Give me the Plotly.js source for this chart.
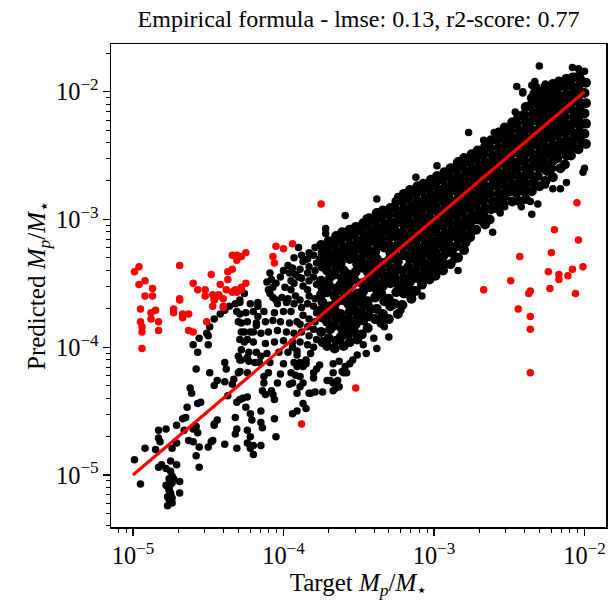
<!DOCTYPE html>
<html><head><meta charset="utf-8">
<script src="https://cdn.plot.ly/plotly-3.0.1.min.js"></script>
<style>html,body{margin:0;padding:0;background:#fff;}#chart{width:608px;height:601px;}</style>
</head><body><div id="chart"></div>
<script>
// All values are log10(M_p / M_star) pairs: [target, predicted]
const blackSparse = [[-4.99,-4.88],[-4.95,-5.07],[-4.92,-4.79],[-4.85,-4.80],[-4.83,-4.65],[-4.83,-4.71],[-4.82,-4.74],[-4.78,-4.64],[-4.81,-4.92],[-4.83,-4.94],[-4.78,-4.95],[-4.75,-4.89],[-4.75,-4.97],[-4.74,-5.01],[-4.75,-5.07],[-4.77,-5.09],[-4.76,-5.12],[-4.75,-5.14],[-4.77,-5.17],[-4.75,-5.21],[-4.77,-5.24],[-4.74,-5.22],[-4.78,-5.08],[-4.69,-5.05],[-4.69,-5.14],[-4.71,-4.92],[-4.73,-5.03],[-4.74,-4.79],[-4.71,-4.75],[-4.71,-4.61],[-4.67,-4.56],[-4.65,-4.55],[-4.64,-4.47],[-4.62,-4.32],[-4.61,-4.36],[-4.66,-4.65],[-4.63,-4.73],[-4.60,-4.74],[-4.60,-4.64],[-4.58,-4.62],[-4.57,-4.67],[-4.56,-4.78],[-4.58,-4.85],[-4.56,-4.94],[-4.57,-4.44],[-4.55,-4.43],[-4.58,-4.17],[-4.57,-4.04],[-4.60,-3.98],[-4.50,-3.98],[-4.50,-3.91],[-4.49,-4.20],[-4.44,-4.26],[-4.46,-4.30],[-4.39,-4.12],[-4.38,-4.17],[-4.39,-4.27],[-4.34,-4.29],[-4.37,-4.38],[-4.44,-4.57],[-4.46,-4.60],[-4.48,-4.74],[-4.50,-4.78],[-4.47,-4.73],[-4.39,-4.76],[-4.32,-4.68],[-4.31,-4.64],[-4.31,-4.79],[-4.32,-4.55],[-4.31,-4.43],[-4.29,-4.41],[-4.25,-4.47],[-4.24,-4.39],[-4.22,-4.52],[-4.21,-4.57],[-4.24,-4.65],[-4.24,-4.75],[-4.22,-4.79],[-4.20,-4.84],[-4.20,-4.77],[-4.22,-4.70],[-4.15,-4.59],[-4.15,-4.50],[-4.14,-4.63],[-4.14,-4.34],[-4.12,-4.37],[-4.15,-4.77],[-4.06,-4.56],[-4.05,-4.70],[-4.07,-4.37],[-4.06,-4.41],[-4.08,-4.34],[-4.13,-4.28],[-4.30,-4.20],[-4.29,-4.19],[-4.27,-4.40],[-4.13,-4.23],[-4.24,-4.20],[-4.33,-4.25],[-4.30,-4.07],[-4.28,-4.10],[-4.23,-4.11],[-4.76,-5.03],[-4.74,-5.06],[-4.76,-5.10],[-4.75,-5.15],[-4.76,-5.19],[-4.74,-5.18],[-4.46,-4.61]];

const blackMidLeft = [[-4.56,-3.93],[-4.51,-3.89],[-4.49,-3.84],[-4.46,-3.78],[-4.42,-3.74],[-4.39,-3.71],[-4.36,-3.68],[-4.32,-3.66],[-4.29,-3.63],[-4.26,-3.58],[-4.29,-3.74],[-4.28,-3.81],[-4.26,-3.88],[-4.29,-3.94],[-4.28,-4.02],[-4.24,-3.94],[-4.23,-4.04],[-4.20,-3.88],[-4.18,-3.83],[-4.17,-3.76],[-4.17,-3.68],[-4.24,-4.08],[-4.29,-4.10],[-4.19,-4.12],[-4.15,-4.07],[-4.09,-3.42],[-4.08,-3.47],[-4.07,-3.53],[-4.09,-3.58],[-4.05,-3.50],[-4.02,-3.45],[-4.00,-3.40],[-3.97,-3.36],[-3.94,-3.38],[-3.92,-3.43],[-3.95,-3.48],[-3.99,-3.53],[-4.01,-3.61],[-4.05,-3.63],[-4.07,-3.61],[-4.11,-3.49],[-4.10,-3.55],[-4.29,-3.65],[-4.22,-3.66],[-4.17,-3.65],[-4.04,-3.66],[-3.98,-3.65],[-3.93,-3.66],[-4.31,-3.72],[-4.25,-3.73],[-4.20,-3.72],[-4.13,-3.72],[-4.06,-3.73],[-4.00,-3.72],[-3.95,-3.72],[-4.30,-3.80],[-4.24,-3.80],[-4.18,-3.81],[-4.12,-3.80],[-4.07,-3.79],[-4.02,-3.80],[-3.96,-3.81],[-3.91,-3.80],[-4.28,-3.88],[-4.22,-3.88],[-4.15,-3.89],[-4.10,-3.88],[-4.04,-3.87],[-3.98,-3.88],[-3.93,-3.89],[-4.26,-3.96],[-4.20,-3.96],[-4.12,-3.97],[-4.06,-3.96],[-4.00,-3.95],[-3.94,-3.96],[-3.89,-3.96],[-4.18,-4.04],[-4.11,-4.05],[-4.03,-4.04],[-3.97,-4.04],[-3.91,-4.03],[-4.16,-4.12],[-4.09,-4.12],[-4.00,-4.13],[-3.93,-4.12],[-4.10,-4.20],[-4.02,-4.21],[-3.95,-4.20],[-4.04,-4.28],[-3.96,-4.29],[-3.90,-3.22],[-3.93,-3.30],[-3.95,-3.55],[-3.92,-3.60],[-3.97,-3.62],[-3.93,-3.50],[-3.90,-3.45],[-3.96,-3.42],[-3.94,-4.00],[-3.91,-4.06],[-3.89,-4.12],[-3.85,-4.10],[-3.82,-4.05],[-3.84,-3.98],[-3.80,-4.00]];

const bandEdgeLeft = [
[-3.88,-3.28],[-3.87,-3.33],[-3.89,-3.39],[-3.88,-3.46],[-3.87,-3.52],[-3.89,-3.63],[-3.88,-3.69],[-3.87,-3.75],[-3.89,-3.82],[-3.88,-3.88],
[-3.83,-3.26],[-3.84,-3.31],[-3.83,-3.37],[-3.84,-3.42],[-3.83,-3.48],[-3.84,-3.55],[-3.83,-3.60],[-3.84,-3.66],[-3.83,-3.78],[-3.84,-3.84],[-3.83,-3.91],
[-3.79,-3.22],[-3.80,-3.28],[-3.78,-3.34],[-3.79,-3.40],[-3.80,-3.45],[-3.78,-3.51],[-3.79,-3.62],[-3.80,-3.68],[-3.78,-3.73],[-3.79,-3.80],[-3.80,-3.86],[-3.78,-3.94]];

const bandCore = [
[-3.75,-3.20],[-3.74,-3.26],[-3.75,-3.31],[-3.74,-3.37],[-3.75,-3.48],[-3.74,-3.54],[-3.75,-3.59],[-3.74,-3.65],[-3.75,-3.71],[-3.74,-3.77],[-3.75,-3.88],[-3.74,-3.96],
[-3.70,-3.17],[-3.71,-3.23],[-3.69,-3.29],[-3.70,-3.34],[-3.71,-3.40],[-3.69,-3.45],[-3.70,-3.51],[-3.71,-3.57],[-3.69,-3.68],[-3.70,-3.74],[-3.71,-3.80],[-3.69,-3.86],[-3.70,-3.93],[-3.71,-3.99],
[-3.65,-3.13],[-3.66,-3.19],[-3.65,-3.25],[-3.66,-3.31],[-3.65,-3.37],[-3.66,-3.43],[-3.65,-3.54],[-3.66,-3.60],[-3.65,-3.65],[-3.66,-3.71],[-3.65,-3.77],[-3.66,-3.83],[-3.65,-3.95],[-3.66,-4.01],
[-3.61,-3.10],[-3.62,-3.16],[-3.60,-3.22],[-3.61,-3.28],[-3.62,-3.34],[-3.60,-3.40],[-3.61,-3.46],[-3.62,-3.51],[-3.60,-3.57],[-3.61,-3.63],[-3.62,-3.74],[-3.60,-3.80],[-3.61,-3.86],[-3.62,-3.92],[-3.60,-3.99],
[-3.56,-3.08],[-3.57,-3.14],[-3.56,-3.20],[-3.57,-3.25],[-3.56,-3.31],[-3.57,-3.43],[-3.56,-3.49],[-3.57,-3.54],[-3.56,-3.60],[-3.57,-3.66],[-3.56,-3.72],[-3.57,-3.78],[-3.56,-3.84],[-3.57,-3.90],[-3.56,-3.96],
[-3.52,-3.06],[-3.53,-3.11],[-3.51,-3.17],[-3.52,-3.23],[-3.53,-3.29],[-3.51,-3.35],[-3.52,-3.41],[-3.53,-3.47],[-3.51,-3.58],[-3.52,-3.64],[-3.53,-3.70],[-3.51,-3.76],[-3.52,-3.82],[-3.53,-3.88],[-3.51,-3.94],
[-3.47,-3.03],[-3.48,-3.09],[-3.47,-3.15],[-3.48,-3.20],[-3.47,-3.26],[-3.48,-3.32],[-3.47,-3.38],[-3.48,-3.50],[-3.47,-3.56],[-3.48,-3.61],[-3.47,-3.67],[-3.48,-3.73],[-3.47,-3.79],[-3.48,-3.90],
[-3.43,-2.99],[-3.44,-3.05],[-3.42,-3.11],[-3.43,-3.17],[-3.44,-3.23],[-3.42,-3.29],[-3.43,-3.35],[-3.44,-3.41],[-3.42,-3.47],[-3.43,-3.53],[-3.44,-3.64],[-3.42,-3.70],[-3.43,-3.76],[-3.44,-3.85],
[-3.38,-2.95],[-3.39,-3.01],[-3.38,-3.07],[-3.39,-3.13],[-3.38,-3.19],[-3.39,-3.25],[-3.38,-3.31],[-3.39,-3.37],[-3.38,-3.43],[-3.39,-3.49],[-3.38,-3.55],[-3.39,-3.61],[-3.38,-3.70],[-3.39,-3.78],
[-3.34,-2.93],[-3.35,-2.98],[-3.33,-3.04],[-3.34,-3.10],[-3.35,-3.16],[-3.33,-3.22],[-3.34,-3.34],[-3.35,-3.40],[-3.33,-3.46],[-3.34,-3.52],[-3.35,-3.58],[-3.33,-3.64],[-3.34,-3.74],[-3.35,-3.81],
[-3.29,-2.91],[-3.30,-2.96],[-3.29,-3.02],[-3.30,-3.08],[-3.29,-3.14],[-3.30,-3.20],[-3.29,-3.26],[-3.30,-3.32],[-3.29,-3.38],[-3.30,-3.44],[-3.29,-3.50],[-3.30,-3.62],[-3.29,-3.68],[-3.30,-3.78],
[-3.25,-2.86],[-3.26,-2.91],[-3.24,-2.97],[-3.25,-3.03],[-3.26,-3.09],[-3.24,-3.15],[-3.25,-3.21],[-3.26,-3.27],[-3.24,-3.33],[-3.25,-3.39],[-3.26,-3.45],[-3.24,-3.51],[-3.25,-3.57],[-3.26,-3.66],[-3.24,-3.74],
[-3.20,-2.80],[-3.21,-2.86],[-3.20,-2.92],[-3.21,-2.98],[-3.20,-3.04],[-3.21,-3.10],[-3.20,-3.16],[-3.21,-3.22],[-3.20,-3.28],[-3.21,-3.40],[-3.20,-3.46],[-3.21,-3.52],[-3.20,-3.58],[-3.21,-3.67],
[-3.16,-2.77],[-3.17,-2.83],[-3.15,-2.89],[-3.16,-2.95],[-3.17,-3.01],[-3.15,-3.07],[-3.16,-3.13],[-3.17,-3.19],[-3.15,-3.25],[-3.16,-3.31],[-3.17,-3.37],[-3.15,-3.43],[-3.16,-3.49],[-3.17,-3.55],[-3.15,-3.62],
[-3.11,-2.74],[-3.12,-2.80],[-3.11,-2.86],[-3.12,-2.92],[-3.11,-2.98],[-3.12,-3.04],[-3.11,-3.10],[-3.12,-3.16],[-3.11,-3.22],[-3.12,-3.28],[-3.11,-3.34],[-3.12,-3.40],[-3.11,-3.46],[-3.12,-3.56],
[-3.07,-2.72],[-3.08,-2.78],[-3.06,-2.84],[-3.07,-2.90],[-3.08,-2.96],[-3.06,-3.02],[-3.07,-3.08],[-3.08,-3.14],[-3.06,-3.20],[-3.07,-3.26],[-3.08,-3.32],[-3.06,-3.38],[-3.07,-3.44],[-3.08,-3.51],
[-3.02,-2.69],[-3.03,-2.75],[-3.02,-2.81],[-3.03,-2.87],[-3.02,-2.93],[-3.03,-2.99],[-3.02,-3.05],[-3.03,-3.11],[-3.02,-3.17],[-3.03,-3.23],[-3.02,-3.29],[-3.03,-3.35],[-3.02,-3.41],[-3.03,-3.47],
[-2.98,-2.66],[-2.99,-2.71],[-2.97,-2.77],[-2.98,-2.83],[-2.99,-2.89],[-2.97,-2.95],[-2.98,-3.01],[-2.99,-3.07],[-2.97,-3.13],[-2.98,-3.19],[-2.99,-3.25],[-2.97,-3.31],[-2.98,-3.37],[-2.99,-3.44],
[-2.93,-2.63],[-2.94,-2.69],[-2.93,-2.75],[-2.94,-2.81],[-2.93,-2.87],[-2.94,-2.93],[-2.93,-2.99],[-2.94,-3.05],[-2.93,-3.11],[-2.94,-3.17],[-2.93,-3.23],[-2.94,-3.29],[-2.93,-3.35],[-2.94,-3.40],
[-2.89,-2.60],[-2.90,-2.66],[-2.88,-2.72],[-2.89,-2.78],[-2.90,-2.84],[-2.88,-2.90],[-2.89,-2.96],[-2.90,-3.02],[-2.88,-3.08],[-2.89,-3.14],[-2.90,-3.20],[-2.88,-3.26],[-2.89,-3.35],
[-2.84,-2.55],[-2.85,-2.61],[-2.84,-2.67],[-2.85,-2.73],[-2.84,-2.79],[-2.85,-2.85],[-2.84,-2.91],[-2.85,-2.97],[-2.84,-3.03],[-2.85,-3.09],[-2.84,-3.15],[-2.85,-3.21],[-2.84,-3.30],
[-2.80,-2.52],[-2.81,-2.58],[-2.79,-2.64],[-2.80,-2.70],[-2.81,-2.76],[-2.79,-2.82],[-2.80,-2.88],[-2.81,-2.94],[-2.79,-3.00],[-2.80,-3.06],[-2.81,-3.12],[-2.79,-3.18],[-2.80,-3.24],
[-2.75,-2.49],[-2.76,-2.55],[-2.75,-2.61],[-2.76,-2.67],[-2.75,-2.73],[-2.76,-2.79],[-2.75,-2.85],[-2.76,-2.91],[-2.75,-2.97],[-2.76,-3.03],[-2.75,-3.09],[-2.76,-3.14],
[-2.71,-2.46],[-2.72,-2.52],[-2.70,-2.58],[-2.71,-2.64],[-2.72,-2.70],[-2.70,-2.76],[-2.71,-2.82],[-2.72,-2.88],[-2.70,-2.94],[-2.71,-3.00],[-2.72,-3.08],
[-2.66,-2.43],[-2.67,-2.49],[-2.66,-2.55],[-2.67,-2.61],[-2.66,-2.67],[-2.67,-2.73],[-2.66,-2.79],[-2.67,-2.85],[-2.66,-2.91],[-2.67,-2.97],[-2.66,-3.04],
[-2.62,-2.38],[-2.63,-2.44],[-2.61,-2.50],[-2.62,-2.56],[-2.63,-2.62],[-2.61,-2.68],[-2.62,-2.74],[-2.63,-2.80],[-2.61,-2.86],[-2.62,-2.92],[-2.63,-3.00],
[-2.57,-2.32],[-2.58,-2.38],[-2.57,-2.44],[-2.58,-2.50],[-2.57,-2.56],[-2.58,-2.62],[-2.57,-2.68],[-2.58,-2.74],[-2.57,-2.80],[-2.58,-2.86],[-2.57,-2.92],
[-2.53,-2.28],[-2.54,-2.34],[-2.52,-2.40],[-2.53,-2.46],[-2.54,-2.52],[-2.52,-2.58],[-2.53,-2.64],[-2.54,-2.70],[-2.52,-2.76],[-2.53,-2.82],[-2.54,-2.88],
[-2.48,-2.24],[-2.49,-2.30],[-2.48,-2.36],[-2.49,-2.42],[-2.48,-2.48],[-2.49,-2.54],[-2.48,-2.60],[-2.49,-2.66],[-2.48,-2.72],[-2.49,-2.78],[-2.48,-2.86],
[-2.44,-2.19],[-2.45,-2.25],[-2.43,-2.31],[-2.44,-2.37],[-2.45,-2.43],[-2.43,-2.49],[-2.44,-2.55],[-2.45,-2.61],[-2.43,-2.67],[-2.44,-2.73],[-2.45,-2.79],[-2.43,-2.86],
[-2.39,-2.12],[-2.40,-2.18],[-2.39,-2.24],[-2.40,-2.30],[-2.39,-2.36],[-2.40,-2.42],[-2.39,-2.48],[-2.40,-2.54],[-2.39,-2.60],[-2.40,-2.66],[-2.39,-2.72],[-2.40,-2.78],[-2.39,-2.84],
[-2.35,-2.05],[-2.36,-2.11],[-2.34,-2.17],[-2.35,-2.23],[-2.36,-2.29],[-2.34,-2.35],[-2.35,-2.41],[-2.36,-2.47],[-2.34,-2.53],[-2.35,-2.59],[-2.36,-2.65],[-2.34,-2.71],[-2.35,-2.78],
[-2.30,-2.00],[-2.31,-2.06],[-2.30,-2.12],[-2.31,-2.18],[-2.30,-2.24],[-2.31,-2.30],[-2.30,-2.36],[-2.31,-2.42],[-2.30,-2.48],[-2.31,-2.54],[-2.30,-2.60],[-2.31,-2.66],[-2.30,-2.74],
[-2.26,-1.96],[-2.27,-2.02],[-2.25,-2.08],[-2.26,-2.14],[-2.27,-2.20],[-2.25,-2.26],[-2.26,-2.32],[-2.27,-2.38],[-2.25,-2.44],[-2.26,-2.50],[-2.27,-2.56],[-2.25,-2.62],[-2.26,-2.70],
[-2.21,-1.94],[-2.22,-2.00],[-2.21,-2.06],[-2.22,-2.12],[-2.21,-2.18],[-2.22,-2.24],[-2.21,-2.30],[-2.22,-2.36],[-2.21,-2.42],[-2.22,-2.48],[-2.21,-2.54],[-2.22,-2.60],[-2.21,-2.67],
[-2.17,-1.92],[-2.18,-1.98],[-2.16,-2.04],[-2.17,-2.10],[-2.18,-2.16],[-2.16,-2.22],[-2.17,-2.28],[-2.18,-2.34],[-2.16,-2.40],[-2.17,-2.46],[-2.18,-2.52],[-2.16,-2.60],
[-2.12,-1.90],[-2.13,-1.96],[-2.12,-2.02],[-2.13,-2.08],[-2.12,-2.14],[-2.13,-2.20],[-2.12,-2.26],[-2.13,-2.32],[-2.12,-2.38],[-2.13,-2.44],[-2.12,-2.50],[-2.13,-2.57],
[-2.08,-1.89],[-2.09,-1.95],[-2.07,-2.01],[-2.08,-2.07],[-2.09,-2.13],[-2.07,-2.19],[-2.08,-2.25],[-2.09,-2.31],[-2.07,-2.37],[-2.08,-2.43],[-2.09,-2.50],
[-2.03,-1.90],[-2.04,-1.96],[-2.03,-2.02],[-2.04,-2.08],[-2.03,-2.14],[-2.04,-2.20],[-2.03,-2.26],[-2.04,-2.32],[-2.03,-2.38],[-2.04,-2.45],
[-1.99,-1.93],[-2.00,-2.01],[-1.99,-2.09],[-2.00,-2.17],[-1.99,-2.25],[-2.00,-2.33],[-1.99,-2.41]];

const bandFringe = [[-3.72,-3.07],[-3.72,-3.11],[-3.59,-2.97],[-3.45,-2.99],[-3.38,-2.84],[-3.24,-2.82],[-3.12,-2.67],[-2.98,-2.58],[-2.85,-2.56],[-2.77,-2.32],[-2.67,-2.38],[-2.60,-2.32],[-2.46,-2.16],[-2.45,-1.96],[-2.41,-2.01],[-2.34,-1.96],[-2.34,-2.01],[-2.30,-1.80],[-2.26,-1.94],[-2.20,-1.95],[-2.20,-2.01],[-2.13,-1.92],[-2.11,-1.91],[-2.08,-1.81],[-2.04,-1.82],[-2.00,-1.84],[-2.34,-2.08],[-2.41,-2.00],[-2.35,-1.95],[-2.33,-1.92],[-2.32,-1.96],[-2.31,-2.04],[-2.28,-2.07],[-2.23,-2.05],[-2.21,-1.96],[-2.18,-2.07],[-2.22,-2.11],[-2.03,-1.86],[-2.06,-1.88],
[-2.01,-2.63],[-2.00,-2.60],[-2.12,-2.71],[-2.16,-2.76],[-2.21,-2.76],[-2.26,-2.73],[-2.31,-2.88],[-2.35,-2.96],[-2.36,-2.86],[-2.42,-2.90],[-2.44,-2.85],[-2.53,-2.90],[-2.56,-2.95],[-2.61,-3.10],[-2.68,-3.02],[-2.76,-3.02],[-2.84,-3.40],[-2.87,-3.32],[-2.92,-3.27],[-2.99,-3.32],[-3.00,-3.44],[-3.08,-3.60],[-3.14,-3.55],[-3.15,-3.60],[-3.22,-3.71],[-3.30,-3.92],[-3.33,-3.84],[-3.38,-4.01],[-3.40,-3.93],[-3.45,-4.05],[-3.47,-3.98],[-3.51,-4.06],[-3.54,-4.10],[-3.60,-4.20],[-3.63,-4.31],[-3.67,-4.34],[-3.69,-4.26],[-3.74,-4.35],[-3.79,-4.35],[-3.80,-4.24],[-3.83,-4.36],
[-3.91,-4.36],[-3.89,-4.31],[-3.87,-4.28],[-3.89,-4.23],[-3.94,-4.28],[-3.92,-4.22],[-3.91,-4.15],[-3.87,-4.15],[-3.85,-4.13],[-3.80,-4.20],[-3.78,-4.17],[-3.82,-4.36],[-3.76,-4.14],[-3.71,-4.26],[-3.67,-4.20],[-3.67,-4.28],[-3.65,-4.32],[-3.64,-4.26],[-3.61,-4.19],[-3.58,-4.20],[-3.59,-4.15],[-3.56,-4.13],[-3.67,-4.13],[-3.63,-4.11],[-3.87,-4.44],[-3.85,-4.48],[-3.91,-4.50],[-3.94,-4.52]];

const redOutliers = [[-4.99,-3.41],[-4.96,-3.37],[-4.96,-3.51],[-4.92,-3.48],[-4.92,-3.60],[-4.87,-3.54],[-4.87,-3.60],[-4.95,-3.70],[-4.88,-3.73],[-4.85,-3.71],[-4.88,-3.78],[-4.95,-3.80],[-4.94,-3.84],[-4.94,-3.88],[-4.83,-3.80],[-4.83,-3.87],[-4.94,-4.01],[-4.69,-3.36],[-4.69,-3.62],[-4.69,-3.63],[-4.73,-3.70],[-4.73,-3.73],[-4.67,-3.74],[-4.67,-3.77],[-4.63,-3.74],[-4.63,-3.87],[-4.60,-3.88],[-4.60,-3.50],[-4.57,-3.55],[-4.52,-3.55],[-4.52,-3.60],[-4.48,-3.43],[-4.47,-3.59],[-4.46,-3.62],[-4.47,-3.68],[-4.51,-3.80],[-4.42,-3.51],[-4.43,-3.59],[-4.40,-3.62],[-4.40,-3.68],[-4.37,-3.41],[-4.37,-3.47],[-4.34,-3.39],[-4.38,-3.55],[-4.34,-3.57],[-4.34,-3.28],[-4.31,-3.28],[-4.31,-3.32],[-4.28,-3.29],[-4.25,-3.26],[-4.25,-3.50],[-4.28,-3.53],[-4.31,-3.57],[-4.32,-3.55],[-4.07,-3.29],[-4.06,-3.34],[-4.05,-3.21],[-4.00,-3.23],[-3.94,-3.19],[-3.75,-2.88],[-3.52,-4.32],[-3.88,-4.60],[-2.67,-3.55],[-2.49,-3.48],[-2.43,-3.29],[-2.44,-3.70],[-2.37,-3.58],[-2.36,-3.56],[-2.36,-3.76],[-2.36,-3.86],[-2.36,-4.20],[-2.23,-3.54],[-2.24,-3.41],[-2.22,-3.26],[-2.20,-3.08],[-2.17,-3.43],[-2.17,-3.47],[-2.11,-3.44],[-2.08,-3.39],[-2.06,-3.58],[-2.04,-3.16],[-2.05,-2.87],[-2.01,-3.37],[-4.46,-3.63],[-4.43,-3.60],[-4.33,-3.56],[-4.28,-3.55],[-4.40,-3.69]];

// ideal prediction line (target = predicted)
const lineTarget = [1e-5, 1e-2];
const linePred = [1e-5, 1e-2];

const lin = v => Math.pow(10, v);
const blackOther = [].concat(blackSparse, blackMidLeft, bandEdgeLeft, bandFringe);
const FONT = '"Liberation Serif", "Times New Roman", Times, serif';

const traces = [
  {type:'scatter', mode:'markers', x: bandCore.map(p=>lin(p[0])), y: bandCore.map(p=>lin(p[1])),
   marker:{color:'#000', size:10, line:{width:0}}, hoverinfo:'skip'},
  {type:'scatter', mode:'markers', x: blackOther.map(p=>lin(p[0])), y: blackOther.map(p=>lin(p[1])),
   marker:{color:'#000', size:7.5, line:{width:0}}, hoverinfo:'skip'},
  {type:'scatter', mode:'markers', x: redOutliers.map(p=>lin(p[0])), y: redOutliers.map(p=>lin(p[1])),
   marker:{color:'#ff0000', size:7.5, line:{width:0}}, hoverinfo:'skip'},
  {type:'scatter', mode:'lines', x: lineTarget, y: linePred,
   line:{color:'#ff0000', width:3.2}, hoverinfo:'skip'}
];

function axis(range, titleText, standoff){
  return {
    type:'log', range:range, dtick:1, exponentformat:'power',
    showgrid:false, zeroline:false, showline:true, mirror:true,
    linecolor:'#000', linewidth:1.5,
    ticks:'outside', ticklen:7, tickwidth:1.4, tickcolor:'#000',
    tickfont:{family:FONT, size:19.5, color:'#000'},
    minor:{ticks:'outside', ticklen:4, tickwidth:1, tickcolor:'#000', dtick:'D1', showgrid:false},
    title:{text:titleText, font:{family:FONT, size:25, color:'#000'}, standoff:standoff},
    automargin:false
  };
}

const layout = {
  width:608, height:601,
  margin:{l:111, r:2, t:44, b:74},
  paper_bgcolor:'#fff', plot_bgcolor:'#fff',
  showlegend:false,
  title:{text:'Empirical formula - lmse: 0.13, r2-score: 0.77',
         font:{family:FONT, size:24, color:'#000'},
         x:0.5, xref:'paper', xanchor:'center', y:1-19/601, yref:'container', yanchor:'middle'},
  xaxis: axis([-5.146, -1.857], 'Target <i>M</i><sub><i>p</i></sub>/<i>M</i><sub>⋆</sub>', 4),
  yaxis: axis([-5.407, -1.627], 'Predicted <i>M</i><sub><i>p</i></sub>/<i>M</i><sub>⋆</sub>', 3)
};

Plotly.newPlot('chart', traces, layout, {staticPlot:true, displayModeBar:false});
</script>
</body></html>
